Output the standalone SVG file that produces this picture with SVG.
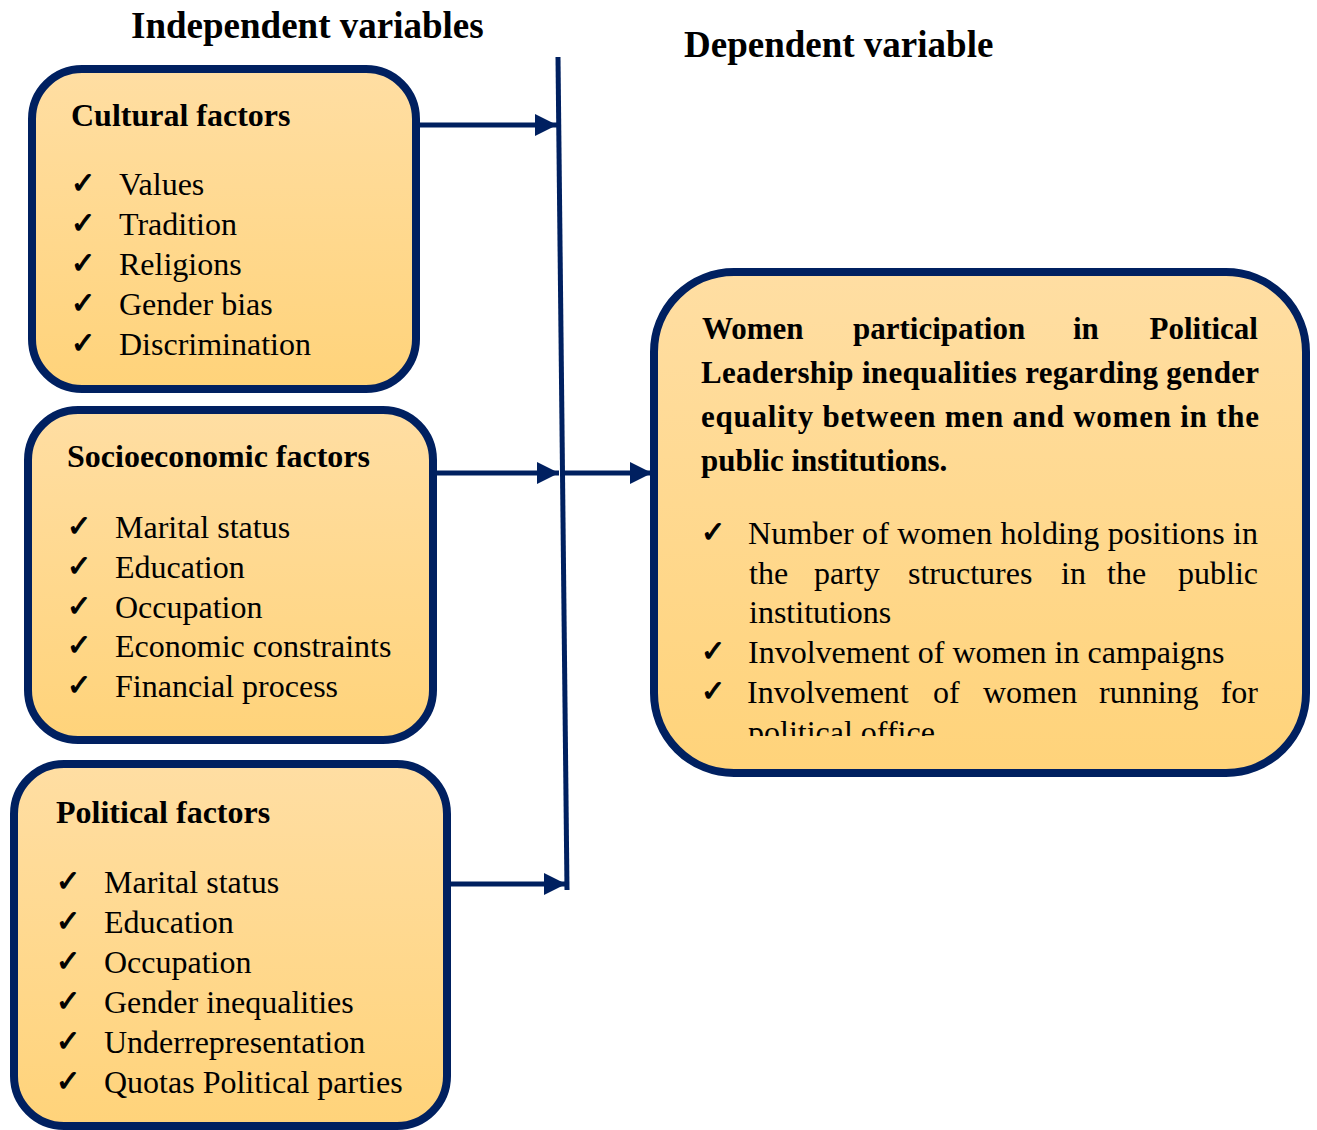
<svg xmlns="http://www.w3.org/2000/svg" width="1317" height="1130" viewBox="0 0 1317 1130">
<defs>
<linearGradient id="g" x1="0" y1="0" x2="0" y2="1">
<stop offset="0" stop-color="#FFDEA3"/>
<stop offset="1" stop-color="#FFD37A"/>
</linearGradient>
<marker id="ah" viewBox="0 0 10 10" refX="10" refY="5" markerWidth="5" markerHeight="4.4" markerUnits="strokeWidth" orient="auto">
<path d="M0,0 L10,5 L0,10 Z" fill="#002060"/>
</marker>
<clipPath id="clipDep"><rect x="650" y="270" width="660" height="466"/></clipPath>
<style>
.box{fill:url(#g);stroke:#002060;stroke-width:8}
.hd{font-family:"Liberation Serif","Times New Roman",serif;font-weight:bold;fill:#000}
.tx{font-family:"Liberation Serif","Times New Roman",serif;font-size:32px;fill:#000}
.ck{font-family:"DejaVu Sans",sans-serif;font-size:29px;font-weight:bold;fill:#000;stroke:#000;stroke-width:1.1}
.ln{stroke:#002060;stroke-width:5;fill:none}
</style>
</defs>
<rect width="1317" height="1130" fill="#fff"/>
<text class="hd" x="131" y="38" font-size="37">Independent variables</text>
<text class="hd" x="684" y="57" font-size="37">Dependent variable</text>

<g id="cultural">
<rect class="box" x="32" y="69" width="384" height="320" rx="50"/>
<text class="hd" x="71" y="126" font-size="32">Cultural factors</text>
<text class="ck" x="71" y="193">✓</text><text class="tx" x="119" y="195">Values</text>
<text class="ck" x="71" y="233">✓</text><text class="tx" x="119" y="235">Tradition</text>
<text class="ck" x="71" y="273">✓</text><text class="tx" x="119" y="275">Religions</text>
<text class="ck" x="71" y="313">✓</text><text class="tx" x="119" y="315">Gender bias</text>
<text class="ck" x="71" y="353">✓</text><text class="tx" x="119" y="355">Discrimination</text>
</g>

<g id="socioeconomic">
<rect class="box" x="28" y="410" width="405" height="330" rx="50"/>
<text class="hd" x="67" y="467" font-size="32">Socioeconomic factors</text>
<text class="ck" x="67" y="536">✓</text><text class="tx" x="115" y="538">Marital status</text>
<text class="ck" x="67" y="576">✓</text><text class="tx" x="115" y="578">Education</text>
<text class="ck" x="67" y="616">✓</text><text class="tx" x="115" y="618">Occupation</text>
<text class="ck" x="67" y="655">✓</text><text class="tx" x="115" y="657">Economic constraints</text>
<text class="ck" x="67" y="695">✓</text><text class="tx" x="115" y="697">Financial process</text>
</g>

<g id="political">
<rect class="box" x="14" y="764" width="433" height="362" rx="50"/>
<text class="hd" x="56" y="823" font-size="32">Political factors</text>
<text class="ck" x="56" y="891">✓</text><text class="tx" x="104" y="893">Marital status</text>
<text class="ck" x="56" y="931">✓</text><text class="tx" x="104" y="933">Education</text>
<text class="ck" x="56" y="971">✓</text><text class="tx" x="104" y="973">Occupation</text>
<text class="ck" x="56" y="1011">✓</text><text class="tx" x="104" y="1013">Gender inequalities</text>
<text class="ck" x="56" y="1051">✓</text><text class="tx" x="104" y="1053">Underrepresentation</text>
<text class="ck" x="56" y="1091">✓</text><text class="tx" x="104" y="1093">Quotas Political parties</text>
</g>

<g id="dependent">
<rect class="box" x="654" y="272" width="652" height="501" rx="80"/>
<g class="hd" font-size="31">
<text x="702" y="339">Women</text>
<text x="853" y="339">participation</text>
<text x="1073" y="339">in</text>
<text x="1258" y="339" text-anchor="end">Political</text>
<text x="701" y="383" textLength="558" lengthAdjust="spacing">Leadership inequalities regarding gender</text>
<text x="701" y="427" textLength="558" lengthAdjust="spacing">equality between men and women in the</text>
<text x="701" y="471">public institutions.</text>
</g>
<g clip-path="url(#clipDep)">
<text class="ck" x="701" y="542">✓</text>
<text class="tx" x="748" y="544" textLength="510" lengthAdjust="spacing">Number of women holding positions in</text>
<text class="tx" x="749" y="584">the</text>
<text class="tx" x="814" y="584">party</text>
<text class="tx" x="908" y="584">structures</text>
<text class="tx" x="1061" y="584">in</text>
<text class="tx" x="1107" y="584">the</text>
<text class="tx" x="1258" y="584" text-anchor="end">public</text>
<text class="tx" x="749" y="623">institutions</text>
<text class="ck" x="701" y="661">✓</text>
<text class="tx" x="748" y="663">Involvement of women in campaigns</text>
<text class="ck" x="701" y="701">✓</text>
<text class="tx" x="747" y="703">Involvement</text>
<text class="tx" x="933" y="703">of</text>
<text class="tx" x="983" y="703">women</text>
<text class="tx" x="1099" y="703">running</text>
<text class="tx" x="1258" y="703" text-anchor="end">for</text>
<text class="tx" x="748" y="743">political office</text>
</g>
</g>

<g id="connectors">
<line class="ln" x1="558" y1="57" x2="567" y2="890"/>
<line class="ln" x1="416" y1="125" x2="557" y2="125" marker-end="url(#ah)"/>
<line class="ln" x1="437" y1="473" x2="559" y2="473" marker-end="url(#ah)"/>
<line class="ln" x1="562" y1="473" x2="652" y2="473" marker-end="url(#ah)"/>
<line class="ln" x1="451" y1="884" x2="566" y2="884" marker-end="url(#ah)"/>
</g>
</svg>
